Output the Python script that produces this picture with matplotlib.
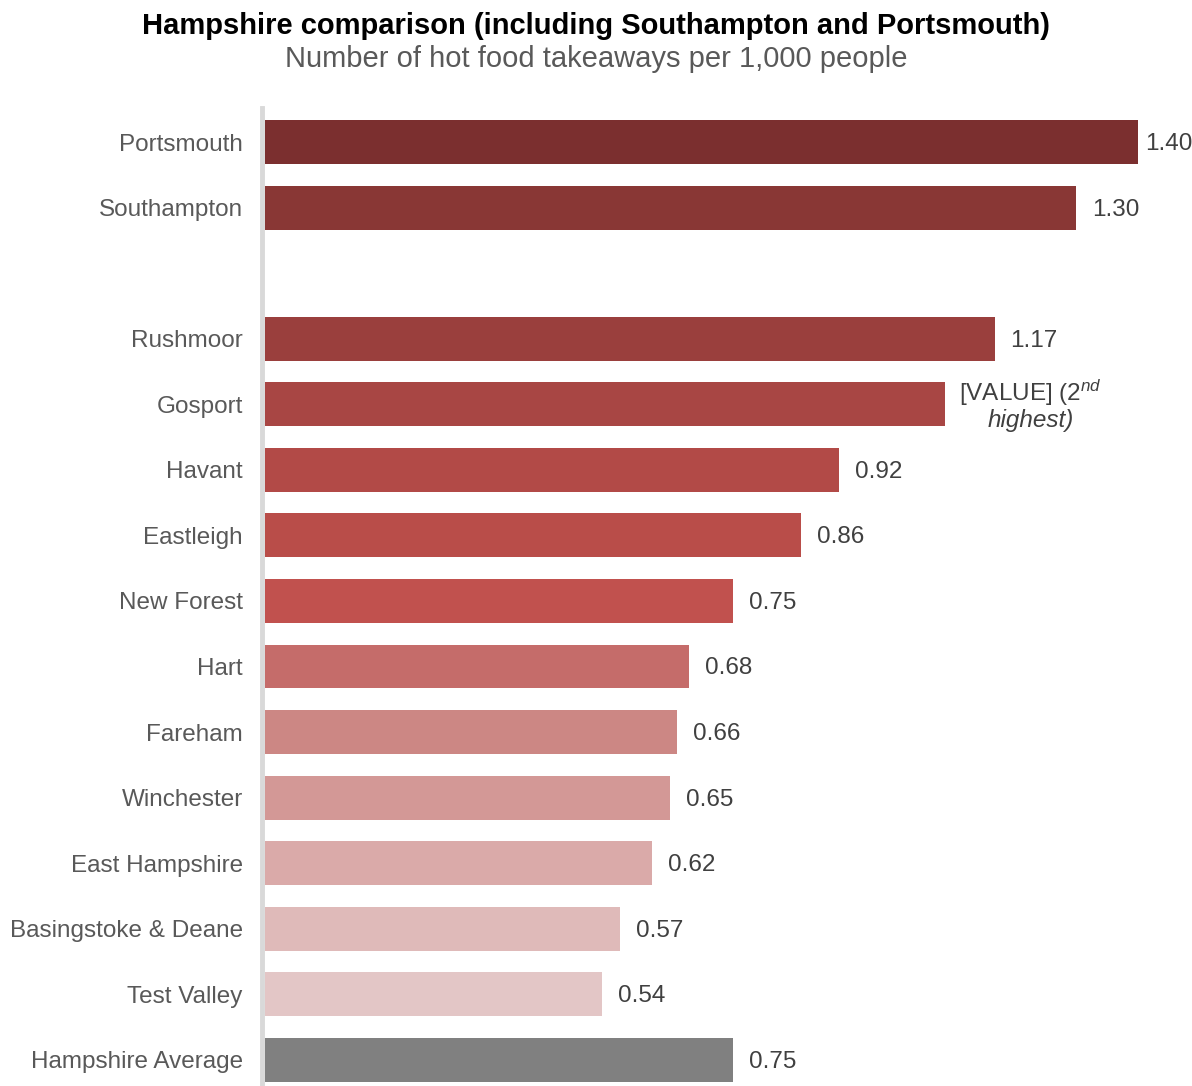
import matplotlib.pyplot as plt
import numpy as np

plt.rcParams['font.family'] = ['Liberation Sans', 'DejaVu Sans']
plt.rcParams['mathtext.fontset'] = 'custom'
plt.rcParams['mathtext.rm'] = 'Liberation Sans'
plt.rcParams['mathtext.it'] = 'Liberation Sans:italic'

areas = ["Portsmouth", "Southampton", "", "Rushmoor", "Gosport", "Havant", "Eastleigh",
         "New Forest", "Hart", "Fareham", "Winchester", "East Hampshire",
         "Basingstoke & Deane", "Test Valley", "Hampshire Average"]
values = [1.40, 1.30, None, 1.17, 1.09, 0.92, 0.86, 0.75, 0.68, 0.66, 0.65, 0.62, 0.57, 0.54, 0.75]
labels = ["1.40", "1.30", "", "1.17", None, "0.92", "0.86", "0.75", "0.68", "0.66",
          "0.65", "0.62", "0.57", "0.54", "0.75"]
colors = ["#7b2f2f", "#893735", "#ffffff", "#9a3f3d", "#a84644", "#b24a47", "#b94d49",
          "#c1514e", "#c56c6a", "#cc8784", "#d39896", "#daaaa9", "#dfbab9", "#e3c6c6",
          "#808080"]

fs = 17.5

fig = plt.figure(figsize=(11.92, 10.86), dpi=100)
ax = fig.add_axes([265 / 1192, 0, 1 - 265 / 1192, (1086 - 108) / 1086])

ypos = np.arange(len(areas))
for y, v, c in zip(ypos, values, colors):
    if v is not None:
        ax.barh(y, v, height=0.67, color=c)

for s in ["top", "right", "bottom"]:
    ax.spines[s].set_visible(False)
ax.spines["left"].set_position(("outward", 2))
ax.spines["left"].set_color("#d9d9d9")
ax.spines["left"].set_linewidth(3.5)

ax.set_xlim(0, (1192 - 265) / 623.6)
ax.set_ylim(14.4, -0.52)
ax.set_yticks(ypos)
ax.set_yticklabels(areas, fontsize=fs, color="#595959")
ax.tick_params(axis="y", length=0, pad=14)
ax.set_xticks([])

for i, (y, v, lab) in enumerate(zip(ypos, values, labels)):
    if v is None:
        continue
    if lab is None:
        ax.text(1.228, y - 0.17, r"[VALUE] ($\mathit{2^{nd}}$", fontsize=fs,
                color="#404040", ha="center", va="center")
        ax.text(1.228, y + 0.24, r"highest)", fontsize=fs, style="italic",
                color="#404040", ha="center", va="center")
    else:
        off = 7 if i == 0 else 16
        ax.annotate(lab, (v, y), xytext=(off, -2), textcoords="offset pixels",
                    fontsize=fs, color="#404040", va="center", ha="left")

fig.text(0.5, 1 - 26 / 1086, "Hampshire comparison (including Southampton and Portsmouth)",
         fontsize=21, fontweight="bold", ha="center", va="center", color="black")
fig.text(0.5, 1 - 59 / 1086, "Number of hot food takeaways per 1,000 people",
         fontsize=21, ha="center", va="center", color="#595959")

fig.savefig("out.png", dpi=100)
